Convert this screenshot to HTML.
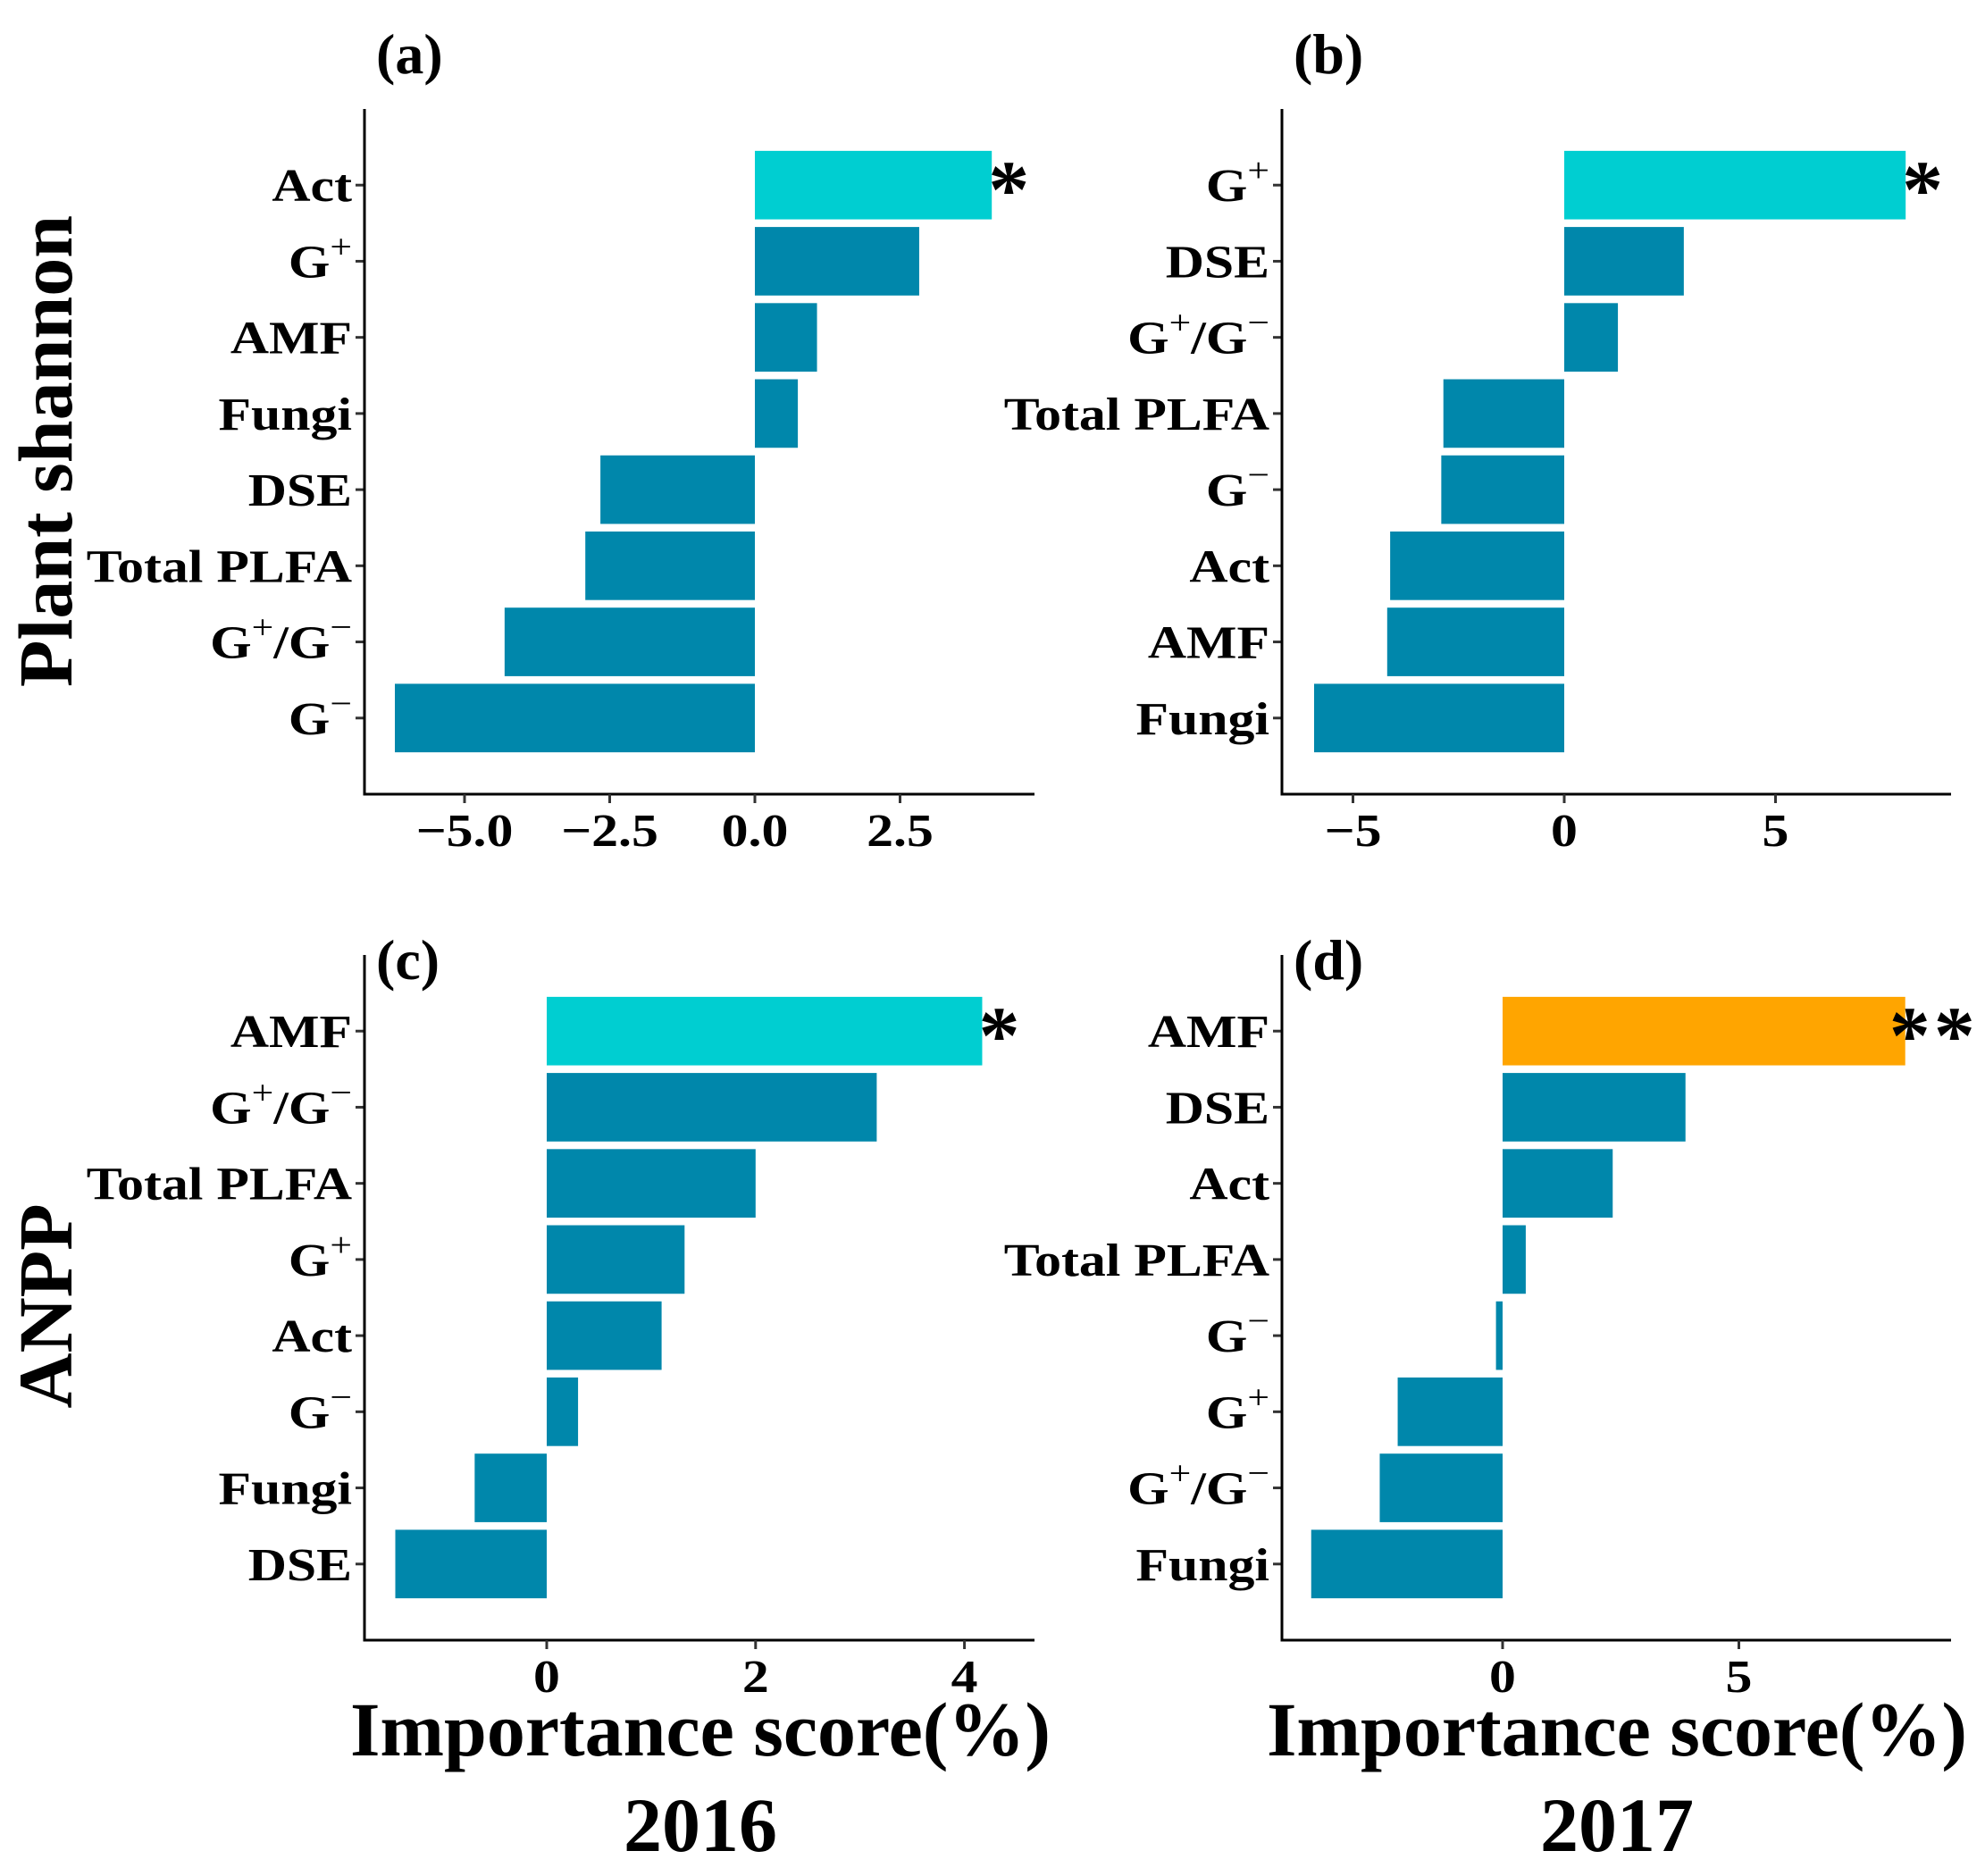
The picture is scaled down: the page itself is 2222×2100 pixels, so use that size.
<!DOCTYPE html>
<html><head><meta charset="utf-8"><style>
html,body{margin:0;padding:0;background:#fff;}
svg{display:block;font-family:"Liberation Serif",serif;font-weight:bold;}
</style></head><body>
<svg id="fig" width="2222" height="2100" viewBox="0 0 2222 2100" xmlns="http://www.w3.org/2000/svg">
<text x="0" y="0" font-size="86" text-anchor="middle" transform="translate(80,505) rotate(-90)">Plant shannon</text>
<text x="0" y="0" font-size="86" text-anchor="middle" transform="translate(80,1462) rotate(-90)">ANPP</text>
<text x="784" y="1965" font-size="86" text-anchor="middle">Importance score(%)</text>
<text x="784" y="2072" font-size="86" text-anchor="middle">2016</text>
<text x="1810" y="1965" font-size="86" text-anchor="middle">Importance score(%)</text>
<text x="1810" y="2072" font-size="86" text-anchor="middle">2017</text>
</svg>
<script>
// Panel (a) 2016 plant shannon
const catsA = ["Act","G+","AMF","Fungi","DSE","Total PLFA","G+/G-","G-"];
const valsA = [4.08,2.83,1.07,0.74,-2.66,-2.92,-4.31,-6.2];
const ticksA = [-5,-2.5,0,2.5];
const tickLabelsA = ["\u22125.0","\u22122.5","0.0","2.5"];
const sigA = ["*","","","","","","",""];
// Panel (b) 2017 plant shannon
const catsB = ["G+","DSE","G+/G-","Total PLFA","G-","Act","AMF","Fungi"];
const valsB = [8.08,2.83,1.27,-2.86,-2.91,-4.12,-4.19,-5.92];
const ticksB = [-5,0,5];
const tickLabelsB = ["\u22125","0","5"];
const sigB = ["*","","","","","","",""];
// Panel (c) 2016 ANPP
const catsC = ["AMF","G+/G-","Total PLFA","G+","Act","G-","Fungi","DSE"];
const valsC = [4.17,3.16,2.0,1.32,1.1,0.3,-0.69,-1.45];
const ticksC = [0,2,4];
const tickLabelsC = ["0","2","4"];
const sigC = ["*","","","","","","",""];
// Panel (d) 2017 ANPP
const catsD = ["AMF","DSE","Act","Total PLFA","G-","G+","G+/G-","Fungi"];
const valsD = [8.52,3.87,2.33,0.49,-0.14,-2.22,-2.6,-4.05];
const ticksD = [0,5];
const tickLabelsD = ["0","5"];
const sigD = ["**","","","","","","",""];

const NS="http://www.w3.org/2000/svg";
const svg=document.getElementById('fig');
function mk(tag,attrs,parent){const e=document.createElementNS(NS,tag);for(const k in attrs)e.setAttribute(k,attrs[k]);(parent||svg).appendChild(e);return e;}

function labelWithSup(t,cat){
  const parts=cat.match(/G[+-]|\/|[^G\/]+|G/g);
  parts.forEach(p=>{
    if(/^G[+-]$/.test(p)){
      const a=document.createElementNS(NS,'tspan');a.textContent='G';t.appendChild(a);
      const s=document.createElementNS(NS,'tspan');s.setAttribute('dy','-22');s.setAttribute('font-size','38');s.setAttribute('font-weight','normal');
      s.textContent=p[1]==='+'?'+':'\u2212';t.appendChild(s);
      const r=document.createElementNS(NS,'tspan');r.setAttribute('dy','22');r.textContent='\u200B';t.appendChild(r);
    } else {
      const a=document.createElementNS(NS,'tspan');a.textContent=p;t.appendChild(a);
    }
  });
}

function panel(key,title,cats,vals,ticks,tickLabels,sig,fillSig,g){
  const grp=mk('g',{});
  
  
  const x=v=>g.zero+v*g.ppu;
  const pitch=(g.bottom-g.top)/(cats.length+1);
  const bh=pitch*0.9;
  const y=i=>g.top+pitch*(i+1);
  cats.forEach((c,i)=>{
    const v=vals[i];
    const r=mk('rect',{x:Math.min(x(0),x(v)),y:y(i)-bh/2,width:Math.abs(x(v)-x(0)),height:bh,fill:sig[i]?fillSig:'#0087AB'},grp);
    
    
    mk('line',{x1:g.ax-10,x2:g.ax,y1:y(i),y2:y(i),stroke:'#333','stroke-width':3},grp);
    const tg=mk('g',{transform:'translate('+(g.ax-14)+','+(y(i)+18)+') scale(1.15,1)'},grp);
    const t=mk('text',{x:0,y:0,'font-size':52,'text-anchor':'end'},tg);
    
    
    labelWithSup(t,c);
    if(sig[i]){
      const s=mk('text',{x:x(v)+(sig[i].length>1?-18:-4),y:y(i)+36,'font-size':92,'letter-spacing':(sig[i].length>1?'4':'0')},grp);
      
      
      s.textContent=sig[i];
    }
  });
  mk('line',{x1:g.ax,x2:g.ax,y1:g.top,y2:g.bottom+1.5,stroke:'#000','stroke-width':3},grp);
  mk('line',{x1:g.ax-1.5,x2:g.right,y1:g.bottom,y2:g.bottom,stroke:'#000','stroke-width':3},grp);
  ticks.forEach((tv,i)=>{
    mk('line',{x1:x(tv),x2:x(tv),y1:g.bottom,y2:g.bottom+10,stroke:'#333','stroke-width':3},grp);
    const tg=mk('g',{transform:'translate('+x(tv)+','+(g.bottom+58)+') scale(1.15,1)'},grp);
    const t=mk('text',{x:0,y:0,'font-size':52,'text-anchor':'middle'},tg);
    
    
    t.textContent=tickLabels[i];
  });
  const tt=mk('text',{x:g.tx,y:g.ty,'font-size':64},grp);
  
  
  tt.textContent=title;
}
panel('a','(a)',catsA,valsA,ticksA,tickLabelsA,sigA,'#00CED1',{ax:408,top:122,bottom:889,right:1158,zero:845,ppu:65,tx:421,ty:82});
panel('b','(b)',catsB,valsB,ticksB,tickLabelsB,sigB,'#00CED1',{ax:1435,top:122,bottom:889,right:2184,zero:1751,ppu:47.3,tx:1448,ty:82});
panel('c','(c)',catsC,valsC,ticksC,tickLabelsC,sigC,'#00CED1',{ax:408,top:1069,bottom:1836,right:1158,zero:612,ppu:116.9,tx:421,ty:1096});
panel('d','(d)',catsD,valsD,ticksD,tickLabelsD,sigD,'#FFA500',{ax:1435,top:1069,bottom:1836,right:2184,zero:1682,ppu:52.9,tx:1448,ty:1096});
</script>
</body></html>
